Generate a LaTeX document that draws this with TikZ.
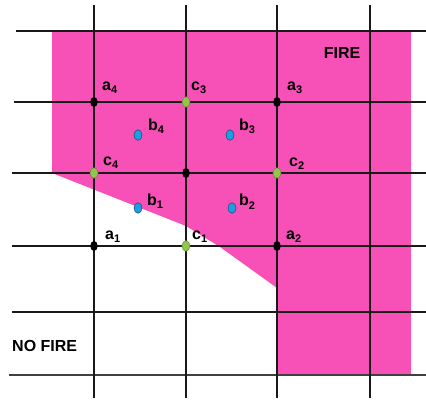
\documentclass[tikz,border=0pt]{standalone}
\usepackage{fontspec}
\setmainfont{Liberation Sans}
\usetikzlibrary{shapes.geometric}
\definecolor{fire}{RGB}{247,80,183}
\definecolor{gdot}{RGB}{146,196,80}
\definecolor{gdotline}{RGB}{100,140,50}
\definecolor{bdotc}{RGB}{24,160,226}
\definecolor{bdotline}{RGB}{20,70,110}
\newcommand{\lab}[2]{\bfseries\fontsize{16}{16}\selectfont #1\raisebox{-3pt}{\fontsize{11}{11}\selectfont #2}}
\tikzset{
  grid line/.style={line width=1.6pt, color=black!90},
  dotbase/.style={ellipse, inner sep=0pt, minimum width=7.5pt, minimum height=10pt},
  blackdot/.style={dotbase, fill=black},
  greendot/.style={dotbase, fill=gdot, draw=gdotline, line width=0.5pt, minimum width=8pt, minimum height=10.5pt},
  bluedot/.style={dotbase, fill=bdotc, draw=bdotline, line width=0.5pt, minimum width=8pt, minimum height=10.5pt},
  lbl/.style={anchor=base west, inner sep=0pt},
  region/.style={font=\bfseries\fontsize{16}{16}\selectfont, inner sep=0pt}
}
\begin{document}
\begin{tikzpicture}[x=1pt, y=-1pt]
\useasboundingbox (0,0) rectangle (426,401);
% fire region
\fill[fire] (52,31) -- (52,173) -- (186,226) -- (220,247) -- (277,288) -- (277,375) -- (411,375) -- (411,31) -- cycle;
% grid
\draw[grid line] (16,31) -- (426,31);
\draw[grid line] (14,102) -- (426,102);
\draw[grid line] (12,173) -- (426,173);
\draw[grid line] (12,246) -- (426,246);
\draw[grid line] (12,312) -- (426,312);
\draw[grid line, color=black!75] (9,375) -- (426,375);
\foreach \x in {94,186,277,370} {\draw[grid line] (\x,5) -- (\x,398);}
% dots
\node[blackdot] (a4) at (94,102) {};
\node[greendot] (c3) at (186,102) {};
\node[blackdot] (a3) at (277,102) {};
\node[bluedot] (b4) at (138,135) {};
\node[bluedot] (b3) at (230,135) {};
\node[greendot] (c4) at (94,173) {};
\node[blackdot] (m) at (186,173) {};
\node[greendot] (c2) at (277,173) {};
\node[bluedot] (b1) at (138,208) {};
\node[bluedot] (b2) at (232,208) {};
\node[blackdot] (a1) at (94,246) {};
\node[greendot] (c1) at (186,246) {};
\node[blackdot] (a2) at (277,246) {};
% labels
\node[lbl] (la4) at (102,91) {\lab{a}{4}};
\node[lbl] (lc3) at (191,91) {\lab{c}{3}};
\node[lbl] (la3) at (287,91) {\lab{a}{3}};
\node[lbl] (lb4) at (148,131) {\lab{b}{4}};
\node[lbl] (lb3) at (239,131) {\lab{b}{3}};
\node[lbl] (lc4) at (103,166) {\lab{c}{4}};
\node[lbl] (lc2) at (289,167) {\lab{c}{2}};
\node[lbl] (lb1) at (147,205) {\lab{b}{1}};
\node[lbl] (lb2) at (239,206) {\lab{b}{2}};
\node[lbl] (la1) at (105,240) {\lab{a}{1}};
\node[lbl] (lc1) at (192,240) {\lab{c}{1}};
\node[lbl] (la2) at (286,240) {\lab{a}{2}};
% region texts
\node[region] (fire) at (342,53) {FIRE};
\node[region, anchor=west] (nofire) at (12,346) {NO FIRE};
\end{tikzpicture}
\end{document}
